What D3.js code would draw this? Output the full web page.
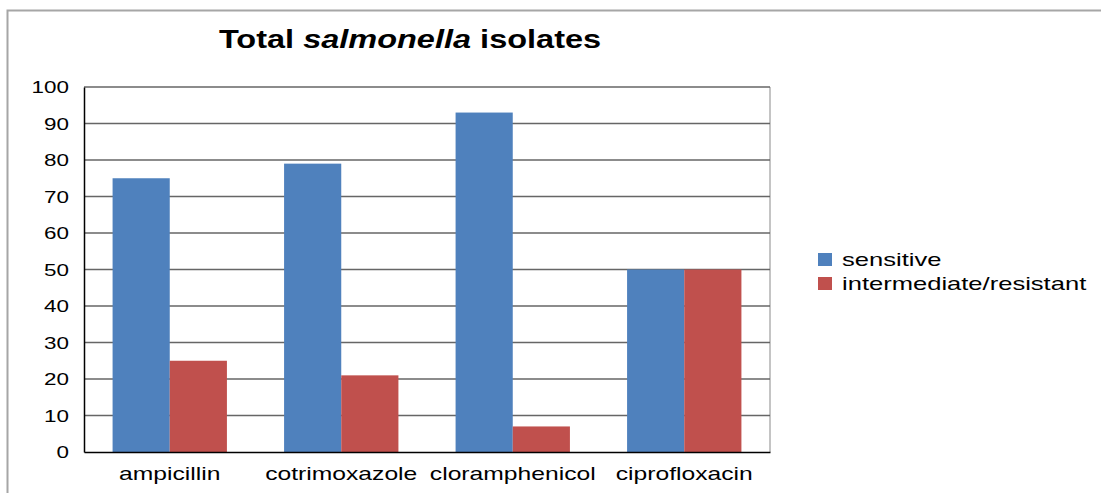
<!DOCTYPE html>
<html>
<head>
<meta charset="utf-8">
<script src="https://cdn.jsdelivr.net/npm/d3@7"></script>
<style>
  html, body { margin: 0; padding: 0; background: #fff; }
  svg { display: block; }
  text { font-family: "Liberation Sans", Arial, sans-serif; fill: #000; }
</style>
</head>
<body>
<svg id="chart" width="1101" height="493"></svg>
<script>
const categories = ["ampicillin", "cotrimoxazole", "cloramphenicol", "ciprofloxacin"];
const seriesNames = ["sensitive", "intermediate/resistant"];
const sensitive = [75, 79, 93, 50];
const intermediateResistant = [25, 21, 7, 50];
const yTicks = [0, 10, 20, 30, 40, 50, 60, 70, 80, 90, 100];
const colors = ["#4f81bd", "#c0504d"];

const series = [sensitive, intermediateResistant];
const svg = d3.select("#chart");
const W = 1101, H = 493;

// outer chart border (only top & left visible in the reference)
svg.append("rect").attr("x", 7.5).attr("y", 10.5).attr("width", W + 20).attr("height", H + 20)
  .attr("fill", "#fff").attr("stroke", "#a6a6a6").attr("stroke-width", 2);

const plot = { left: 84, right: 770, top: 87, bottom: 452 };

const x0 = d3.scaleBand().domain(categories).range([plot.left, plot.right])
  .paddingInner(1 / 3).paddingOuter(1 / 6);
const x1 = d3.scaleBand().domain(seriesNames).range([0, x0.bandwidth()]);
const y = d3.scaleLinear().domain([0, 100]).range([plot.bottom, plot.top]);

// plot right border
svg.append("line").attr("x1", plot.right).attr("x2", plot.right)
  .attr("y1", plot.top).attr("y2", plot.bottom)
  .attr("stroke", "#b0b0b0").attr("stroke-width", 1.5);

// gridlines
svg.append("g").selectAll("line").data(yTicks.filter(d => d > 0)).join("line")
  .attr("x1", plot.left).attr("x2", plot.right)
  .attr("y1", d => y(d)).attr("y2", d => y(d))
  .attr("stroke", "#666").attr("stroke-width", 1.5);

// bars
const groups = svg.append("g").selectAll("g").data(categories).join("g")
  .attr("transform", d => `translate(${x0(d)},0)`);
groups.selectAll("rect")
  .data((c, i) => seriesNames.map((s, j) => ({ s, j, v: series[j][i] })))
  .join("rect")
  .attr("x", d => x1(d.s))
  .attr("width", x1.bandwidth())
  .attr("y", d => y(d.v))
  .attr("height", d => y(0) - y(d.v))
  .attr("fill", d => colors[d.j]);

// y axis
const yAxis = svg.append("g").attr("transform", `translate(${plot.left},0)`)
  .call(d3.axisLeft(y).tickValues(yTicks).tickSize(0).tickPadding(0));
yAxis.select(".domain").attr("stroke", "#000").attr("stroke-width", 1.5);
yAxis.selectAll(".tick text")
  .attr("font-family", "Liberation Sans, Arial, sans-serif")
  .attr("font-size", 16.5).attr("fill", "#000")
  .attr("x", 0).attr("dy", "0.36em")
  .attr("transform", `translate(-15,0) scale(1.36,1)`);

// x axis
const xAxis = svg.append("g").attr("transform", `translate(0,${plot.bottom})`)
  .call(d3.axisBottom(x0).tickSize(0).tickPadding(0).tickSizeOuter(0));
xAxis.select(".domain").attr("stroke", "#000").attr("stroke-width", 1.5);
xAxis.selectAll(".tick text")
  .attr("font-family", "Liberation Sans, Arial, sans-serif")
  .attr("font-size", 18).attr("fill", "#000")
  .attr("y", 0).attr("dy", 0)
  .attr("transform", `translate(0,28) scale(1.37,1)`);

// title
const title = svg.append("text")
  .attr("transform", `translate(410,48) scale(1.3,1)`)
  .attr("text-anchor", "middle")
  .attr("font-size", 25).attr("font-weight", "bold");
title.append("tspan").text("Total ");
title.append("tspan").attr("font-style", "italic").text("salmonella");
title.append("tspan").text(" isolates");

// legend
const legend = svg.append("g").attr("transform", "translate(818,253)");
const li = legend.selectAll("g").data(seriesNames).join("g")
  .attr("transform", (d, i) => `translate(0,${i * 24})`);
li.append("rect").attr("width", 14).attr("height", 13).attr("fill", (d, i) => colors[i]);
li.append("text").attr("transform", `translate(24,13) scale(1.42,1)`)
  .attr("font-size", 18).text(d => d);
</script>
</body>
</html>
